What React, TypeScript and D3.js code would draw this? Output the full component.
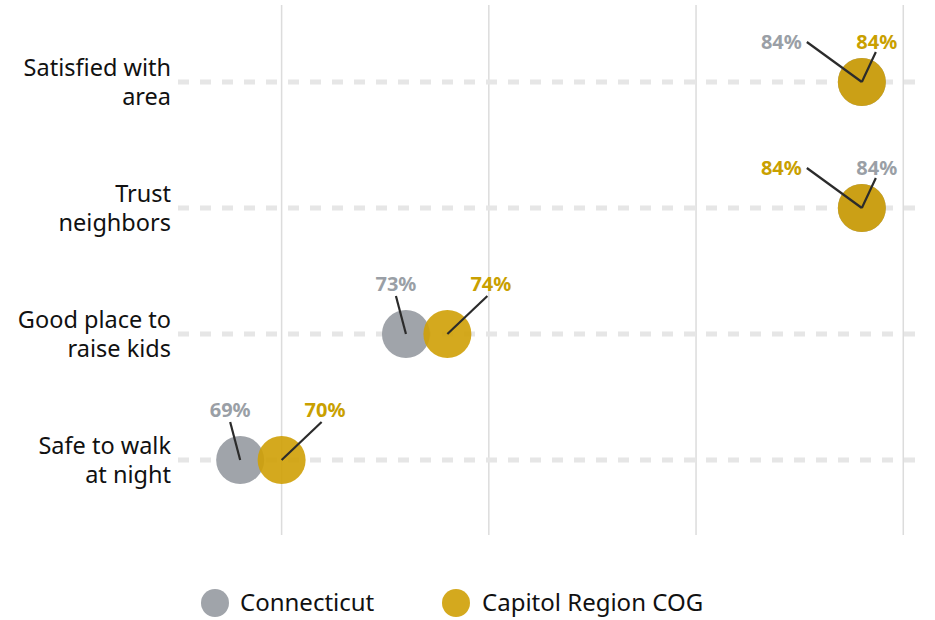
import React from 'react';
import * as d3 from 'd3';

// Survey measures, top to bottom
const categories = ['Satisfied with area', 'Trust neighbors', 'Good place to raise kids', 'Safe to walk at night'];
const categoryLines = [['Satisfied with', 'area'], ['Trust', 'neighbors'], ['Good place to', 'raise kids'], ['Safe to walk', 'at night']];
const connecticut = [84, 84, 73, 69];
const capitolRegion = [84, 84, 74, 70];
// which series gets the left-hand label when the two dots sit on top of each other
const tieLeft = ['ct', 'cog', 'ct', 'ct'];
const xTicks = [70, 75, 80, 85];

const W = 935;
const H = 620;
const FONT = '"Noto Sans", "Open Sans", sans-serif';
const GRAY = '#a0a4aa';
const GOLD = '#cfa005';
const GRAY_TXT = '#9a9fa6';
const GOLD_TXT = '#c9a000';

const App: React.FC = () => {
  const x = d3.scaleLinear().domain([67.5, 85.5]).range([178, 924]);
  const y = d3.scalePoint<string>().domain(categories).range([82, 460]);
  const r = 24;

  const labels = categories.flatMap((c, i) => {
    const cy = y(c) || 0;
    const cx1 = x(connecticut[i]);
    const cx2 = x(capitolRegion[i]);
    const tie = Math.abs(connecticut[i] - capitolRegion[i]) < 0.5;
    if (tie) {
      const leftIsCt = tieLeft[i] === 'ct';
      return [
        { key: c + 'l', cx: cx1, cy, ex: cx1 - 55, ey: cy - 40, tx: cx1 - 60, ty: cy - 33, anchor: 'end', txt: (leftIsCt ? connecticut[i] : capitolRegion[i]) + '%', col: leftIsCt ? GRAY_TXT : GOLD_TXT },
        { key: c + 'r', cx: cx2, cy, ex: cx2 + 14, ey: cy - 30, tx: cx2 + 15, ty: cy - 33, anchor: 'middle', txt: (leftIsCt ? capitolRegion[i] : connecticut[i]) + '%', col: leftIsCt ? GOLD_TXT : GRAY_TXT },
      ];
    }
    return [
      { key: c + 'l', cx: cx1, cy, ex: cx1 - 10, ey: cy - 38, tx: cx1 - 10, ty: cy - 43, anchor: 'middle', txt: connecticut[i] + '%', col: GRAY_TXT },
      { key: c + 'r', cx: cx2, cy, ex: cx2 + 40, ey: cy - 38, tx: cx2 + 23, ty: cy - 43, anchor: 'start', txt: capitolRegion[i] + '%', col: GOLD_TXT },
    ];
  });

  return (
    <svg width={W} height={H} style={{ position: 'absolute', left: 0, top: 0 }} fontFamily={FONT}>
      {/* vertical gridlines */}
      {xTicks.map(t => (
        <line key={t} x1={x(t)} x2={x(t)} y1={5} y2={535} stroke="#dcdcdc" strokeWidth={1.5} />
      ))}

      {categories.map((c, i) => (
        <g key={c}>
          <line x1={178} x2={924} y1={y(c)} y2={y(c)} stroke="#e6e6e6" strokeWidth={5} strokeDasharray="11 11" />
          <text x={171} y={(y(c) || 0) - 6} textAnchor="end" fontSize={23.5} fill="#111">{categoryLines[i][0]}</text>
          <text x={171} y={(y(c) || 0) + 23} textAnchor="end" fontSize={23.5} fill="#111">{categoryLines[i][1]}</text>
        </g>
      ))}

      {/* dots */}
      {categories.map((c, i) => (
        <g key={c + 'dots'}>
          <circle cx={x(connecticut[i])} cy={y(c)} r={r} fill={GRAY} />
          <circle cx={x(capitolRegion[i])} cy={y(c)} r={r} fill={GOLD} fillOpacity={0.9} />
        </g>
      ))}

      {/* leader lines + value labels */}
      {labels.map(l => (
        <g key={l.key}>
          <line x1={l.cx} y1={l.cy} x2={l.ex} y2={l.ey} stroke="#2b2b2b" strokeWidth={2.2} />
          <text x={l.tx} y={l.ty} textAnchor={l.anchor as any} fontSize={20} fontWeight={700} fill={l.col}>{l.txt}</text>
        </g>
      ))}

      {/* legend */}
      <circle cx={215} cy={603} r={14} fill={GRAY} />
      <text x={240} y={611} fontSize={24} fill="#111">Connecticut</text>
      <circle cx={456} cy={603} r={14} fill={GOLD} fillOpacity={0.9} />
      <text x={482} y={611} fontSize={24} fill="#111">Capitol Region COG</text>
    </svg>
  );
};

export default App;
